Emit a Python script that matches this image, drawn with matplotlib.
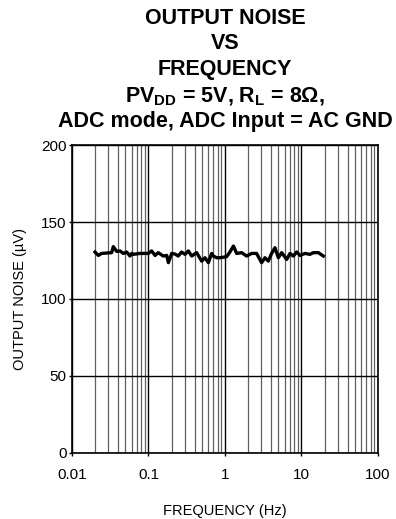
import matplotlib
matplotlib.use("Agg")
import matplotlib.pyplot as plt
from matplotlib.ticker import FixedLocator, LogLocator, NullFormatter

plt.rcParams['font.family'] = ['Liberation Sans', 'DejaVu Sans']
plt.rcParams['mathtext.fontset'] = 'custom'
plt.rcParams['mathtext.rm'] = 'Liberation Sans:bold'
plt.rcParams['mathtext.default'] = 'rm'

# data
freq_hz = [0.0200, 0.0221, 0.0244, 0.0330, 0.0347, 0.0384, 0.0424, 0.0469, 0.0518,
           0.0573, 0.0603, 0.0634, 0.0774, 0.0996, 0.110, 0.122, 0.134, 0.156,
           0.173, 0.182, 0.201, 0.222, 0.245, 0.271, 0.300, 0.332, 0.367, 0.426,
           0.496, 0.548, 0.606, 0.670, 0.704, 0.778, 0.861, 1.05, 1.16, 1.29,
           1.42, 1.65, 1.92, 2.23, 2.59, 3.01, 3.33, 3.68, 4.07, 4.50, 4.98,
           5.51, 6.40, 7.08, 7.82, 8.65, 9.56, 11.1, 12.9, 14.3, 16.6, 19.3]
noise_uv = [130.5, 128.3, 129.6, 130.1, 134.0, 130.9, 131.2, 129.6, 130.5,
            127.9, 129.6, 129.0, 129.6, 129.6, 131.2, 128.3, 130.1, 127.9,
            128.3, 123.6, 129.6, 129.2, 127.9, 130.5, 129.0, 131.2, 127.9, 130.1,
            124.6, 126.8, 123.6, 129.6, 127.9, 126.8, 126.8, 127.5, 130.5, 134.4,
            129.6, 130.1, 127.9, 129.6, 129.6, 123.6, 126.8, 124.6, 129.6, 133.3,
            126.8, 130.1, 125.7, 129.6, 127.9, 130.5, 128.3, 129.6, 129.0, 130.1,
            130.1, 127.9]

x_ticks = [0.01, 0.1, 1, 10, 100]
x_tick_labels = ['0.01', '0.1', '1', '10', '100']
y_ticks = [0, 50, 100, 150, 200]

title_lines = ['OUTPUT NOISE', 'VS', 'FREQUENCY',
               r'PV$_{DD}$ = 5V, R$_{L}$ = 8Ω,',
               'ADC mode, ADC Input = AC GND']

fig = plt.figure(figsize=(3.96, 5.19), dpi=100)
ax = fig.add_axes([0.1818, 0.1272, 0.7727, 0.5934])

ax.plot(freq_hz, noise_uv, color='black', linewidth=2.4, solid_joinstyle='round')

ax.set_xscale('log')
ax.set_xlim(0.01, 100)
ax.set_ylim(0, 200)
ax.xaxis.set_major_locator(FixedLocator(x_ticks))
ax.set_xticklabels(x_tick_labels)
ax.xaxis.set_minor_locator(LogLocator(base=10, subs=range(2, 10)))
ax.xaxis.set_minor_formatter(NullFormatter())
ax.set_yticks(y_ticks)

ax.grid(True, which='major', axis='x', color='black', linewidth=1.0)
ax.grid(True, which='minor', axis='x', color='#606060', linewidth=0.9)
ax.grid(True, which='major', axis='y', color='black', linewidth=1.0)
ax.set_axisbelow(True)

ax.tick_params(axis='both', which='major', length=2, width=1, labelsize=11, pad=2)
ax.tick_params(axis='x', which='major', pad=9)
ax.tick_params(axis='x', which='minor', length=0)
for s in ax.spines.values():
    s.set_linewidth(1.2)

ax.set_xlabel('FREQUENCY (Hz)', fontsize=10.5, labelpad=16)
ax.set_ylabel('OUTPUT NOISE (µV)', fontsize=10.5, labelpad=10)

y_px = [18.5, 43.5, 70, 97, 122]
for txt, yp in zip(title_lines, y_px):
    fig.text(225 / 396, 1 - yp / 519, txt, ha='center', va='center',
             fontsize=15.5, fontweight='bold')

fig.savefig('out.png', dpi=100)
